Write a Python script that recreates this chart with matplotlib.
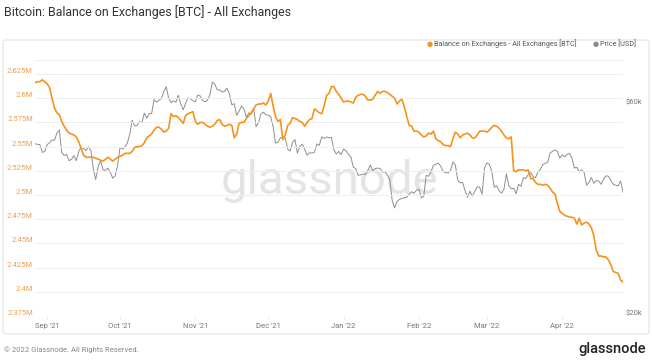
import numpy as np
import pandas as pd
import matplotlib
matplotlib.use("Agg")
import matplotlib.pyplot as plt
import matplotlib.ticker as mticker
from matplotlib.patches import FancyBboxPatch
from matplotlib.lines import Line2D

plt.rcParams['font.family'] = ['Roboto', 'DejaVu Sans']

# daily values, 27 Aug 2021 -> 26 Apr 2022
dates = pd.date_range("2021-08-27", "2022-04-26", freq="D")

# Balance on exchanges, thousands of BTC
balance_k = [
    2616, 2617, 2617, 2619, 2617,
    2615, 2611, 2600, 2590, 2585, 2583, 2576, 2571, 2567, 2564, 2563, 2562, 2560, 2555, 2548,
    2541, 2539, 2539, 2539, 2539, 2538, 2537, 2536, 2535, 2537, 2539, 2537, 2535, 2537, 2539,
    2540, 2541, 2543, 2543, 2543, 2545, 2549, 2550, 2550, 2551, 2554, 2559, 2561, 2563, 2567,
    2570, 2570, 2568, 2565, 2566, 2569, 2584, 2581, 2582, 2580, 2577, 2574, 2582, 2584, 2585, 2586,
    2576, 2573, 2575, 2575, 2573, 2571, 2570, 2571, 2573, 2577, 2578, 2573, 2571, 2572, 2573,
    2572, 2559, 2563, 2574, 2575, 2575, 2579, 2582, 2585, 2589, 2593, 2594, 2594, 2595, 2593,
    2597, 2605, 2592, 2581, 2576, 2578, 2557, 2562, 2572, 2574, 2580, 2579, 2578, 2576, 2575,
    2571, 2575, 2578, 2579, 2589, 2587, 2585, 2584, 2592, 2603, 2605, 2612, 2612, 2607, 2604, 2600,
    2596, 2597, 2597, 2596, 2595, 2601, 2603, 2604, 2604, 2602, 2598, 2598, 2599, 2603, 2607,
    2605, 2607, 2607, 2606, 2604, 2602, 2600, 2594, 2597, 2599, 2591, 2581, 2572, 2571, 2566, 2566,
    2565, 2562, 2560, 2561, 2564, 2563, 2566, 2558, 2556, 2555, 2552, 2551, 2551, 2550,
    2558, 2565, 2563, 2559, 2562, 2563, 2564, 2562, 2559, 2559, 2562, 2566, 2566, 2566,
    2565, 2567, 2570, 2572, 2571, 2569, 2566, 2562, 2559, 2558, 2560, 2525, 2524, 2526, 2526,
    2526, 2525, 2526, 2517, 2517, 2513, 2511, 2511, 2510, 2511, 2510, 2507, 2503, 2501, 2491, 2483,
    2481, 2479, 2478, 2477, 2477, 2476, 2470, 2476, 2469, 2471, 2472, 2470, 2466,
    2458, 2443, 2437, 2437, 2436, 2436, 2433, 2428, 2421, 2420, 2419, 2412, 2410,
]

# BTC price, thousands of USD
price_k = [
    49.0, 48.9, 48.8, 46.9, 47.1,
    48.8, 49.3, 50.0, 49.9, 51.8, 52.7, 46.9, 46.1, 46.4, 44.9, 45.2, 46.1, 44.9, 47.1, 48.2,
    47.8, 47.3, 48.3, 47.3, 43.0, 40.7, 43.6, 44.9, 42.8, 42.7, 43.2, 42.2, 41.0, 41.5, 43.8,
    48.1, 47.7, 48.2, 49.2, 51.5, 55.4, 53.8, 53.9, 55.0, 54.7, 57.5, 56.0, 57.4, 57.4, 61.7,
    60.9, 61.5, 62.0, 64.3, 66.0, 62.2, 60.7, 61.3, 60.9, 63.1, 60.3, 58.5, 60.6, 62.3, 61.9, 61.3,
    61.0, 63.2, 62.9, 61.4, 61.0, 61.5, 63.3, 67.6, 66.9, 64.9, 64.9, 64.2, 64.4, 65.5, 63.6,
    60.1, 60.4, 56.9, 58.1, 59.7, 58.7, 56.3, 57.6, 57.2, 58.9, 53.6, 54.8, 57.3, 57.8, 57.0,
    56.9, 56.5, 53.6, 49.2, 49.4, 50.6, 50.6, 50.5, 47.7, 47.2, 49.4, 50.1, 46.7, 48.4, 48.9,
    47.6, 46.2, 46.8, 46.7, 46.9, 49.0, 48.6, 50.8, 50.4, 50.8, 50.6, 50.7, 47.5, 46.5, 47.1, 46.3,
    47.7, 47.3, 46.4, 45.8, 43.4, 43.1, 41.6, 41.7, 41.9, 41.8, 42.7, 43.9, 42.6, 43.1, 43.2,
    43.1, 42.3, 42.4, 41.7, 40.7, 36.5, 35.1, 36.3, 36.7, 36.9, 37.0, 37.1, 37.7, 38.2, 37.9, 38.5,
    38.7, 37.0, 37.3, 41.6, 41.4, 42.4, 43.8, 44.1, 44.3, 43.6, 42.4, 42.2, 42.1, 42.6,
    44.6, 43.9, 40.6, 40.0, 40.1, 38.4, 37.1, 38.3, 37.3, 38.3, 39.2, 39.1, 37.7, 43.2,
    44.4, 44.0, 42.5, 39.1, 39.4, 38.4, 37.9, 38.7, 41.9, 39.4, 38.8, 38.9, 37.8, 39.7, 39.3,
    41.1, 40.9, 41.8, 42.2, 41.3, 41.1, 42.4, 42.9, 44.0, 44.3, 44.5, 46.8, 47.1, 47.5, 47.1, 45.5,
    46.3, 45.8, 46.4, 46.6, 45.5, 43.2, 43.4, 42.3, 42.8, 42.2, 39.5, 40.1, 41.1,
    39.9, 40.5, 40.4, 39.7, 40.8, 41.5, 41.4, 40.5, 39.7, 39.5, 39.4, 40.4, 38.1,
]

balance_ticks = [2375000, 2400000, 2425000, 2450000, 2475000, 2500000,
                 2525000, 2550000, 2575000, 2600000, 2625000]
price_ticks = [20000, 60000]
month_ticks = pd.date_range("2021-09-01", "2022-04-01", freq="MS")
month_labels = ["Sep '21", "Oct '21", "Nov '21", "Dec '21",
                "Jan '22", "Feb '22", "Mar '22", "Apr '22"]

ORANGE = "#f7931a"
GREY_LINE = "#8e8e8e"

W, H = 652, 363
fig = plt.figure(figsize=(W / 100, H / 100), dpi=100)

# card frame
frame = FancyBboxPatch((3 / W, 1 - 334 / H), 646 / W, 294 / H,
                       boxstyle="round,pad=0,rounding_size=0.006",
                       transform=fig.transFigure, fc="white", ec="#e4e4e4",
                       lw=0.8, zorder=-2)
fig.patches.append(frame)

# faint separator under the legend
fig.add_artist(Line2D([35 / W, 623 / W], [1 - 60 / H, 1 - 60 / H],
                      transform=fig.transFigure, color="#f0f0f0", lw=0.7, zorder=-1))

# watermark
fig.text(330 / W, 1 - 181 / H, "glassnode", fontsize=34, color="#e4e4e4",
         ha="center", va="center", zorder=-1)

ax = fig.add_axes([35 / W, 1 - 316 / H, 588 / W, 242 / H])
ax2 = ax.twinx()
ax.set_zorder(ax2.get_zorder() + 1)
ax.patch.set_visible(False)
ax2.patch.set_visible(False)

ax2.plot(dates, np.array(price_k) * 1000, color=GREY_LINE, lw=0.7)
ax2.set_yscale("log")
ax2.set_ylim(20000, 70500)
ax2.yaxis.set_major_locator(mticker.FixedLocator(price_ticks))
ax2.yaxis.set_minor_locator(mticker.NullLocator())
ax2.yaxis.set_major_formatter(mticker.FuncFormatter(lambda v, p: f"${v / 1000:g}k"))
ax2.tick_params(axis="y", length=0, pad=2, labelsize=5.5, labelcolor="#777777")

ax.plot(dates, np.array(balance_k) * 1000, color=ORANGE, lw=1.2)
ax.set_ylim(2375000, 2625000)
ax.set_xlim(dates[0], dates[-1])
ax.yaxis.set_major_locator(mticker.FixedLocator(balance_ticks))
ax.yaxis.set_major_formatter(mticker.FuncFormatter(lambda v, p: f"{v / 1e6:g}M"))
ax.tick_params(axis="y", length=0, pad=1.5, labelsize=5.5, labelcolor="#eba052")
ax.grid(axis="y", color="#efefef", lw=0.7)
ax.set_axisbelow(True)

ax.set_xticks(month_ticks)
ax.set_xticklabels(month_labels)
ax.tick_params(axis="x", length=2.5, width=0.5, color="#dddddd", pad=2.5,
               labelsize=5.5, labelcolor="#777777")

for a in (ax, ax2):
    for s in a.spines.values():
        s.set_visible(False)

for lab in ax.get_yticklabels() + ax2.get_yticklabels():
    lab.set_verticalalignment("bottom")

# title
fig.text(4 / W, 1 - 12 / H, "Bitcoin: Balance on Exchanges [BTC] - All Exchanges",
         fontsize=8.9, color="#333333", ha="left", va="center")

# legend
fig.text(430 / W, 1 - 44 / H, "\u25CF", fontsize=5, color=ORANGE, ha="center", va="center",
         family=["DejaVu Sans"])
fig.text(434 / W, 1 - 44 / H, "Balance on Exchanges - All Exchanges [BTC]",
         fontsize=5.2, color="#555555", ha="left", va="center")
fig.text(596 / W, 1 - 44 / H, "\u25CF", fontsize=5, color="#888888", ha="center", va="center",
         family=["DejaVu Sans"])
fig.text(600 / W, 1 - 44 / H, "Price [USD]",
         fontsize=5.2, color="#555555", ha="left", va="center")

# footer
fig.text(4 / W, 1 - 350 / H, "\u00A9 2022 Glassnode. All Rights Reserved.",
         fontsize=5.5, color="#888888", ha="left", va="center")
fig.text(646 / W, 1 - 349 / H, "glassnode", fontsize=10.5, color="#222222",
         ha="right", va="center", fontweight="medium")

fig.savefig("out.png", dpi=100)
